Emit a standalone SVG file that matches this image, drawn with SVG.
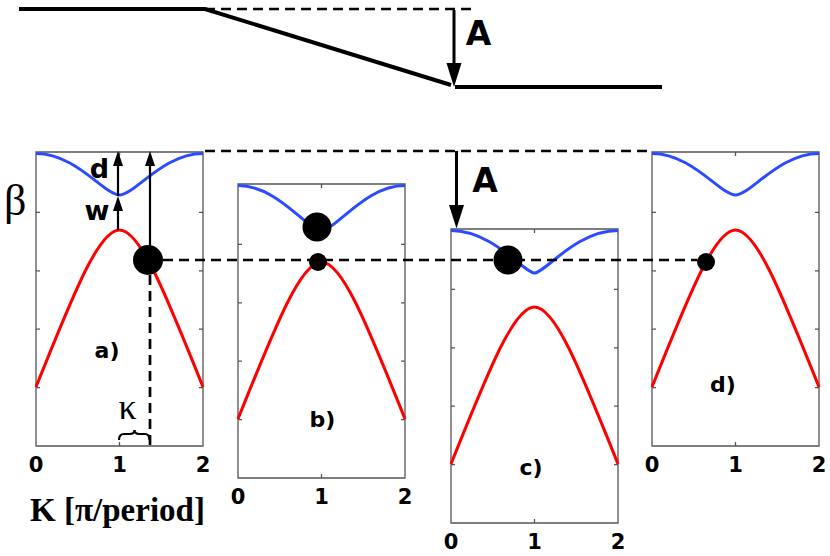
<svg xmlns="http://www.w3.org/2000/svg" xmlns:xlink="http://www.w3.org/1999/xlink" width="830" height="556" viewBox="0 0 830 556">
<style>
.frame{fill:none;stroke:#555;stroke-width:1.3}
.red{fill:none;stroke:#ff0000;stroke-width:3}
.blue{fill:none;stroke:#2a4bff;stroke-width:3}
.lbl{font-family:"DejaVu Sans","Liberation Sans",sans-serif;font-weight:bold;fill:#000}
.tick{font-size:21px;text-anchor:middle}
.plab{font-size:22px;text-anchor:middle}
.dash{fill:none;stroke:#000;stroke-width:2.7;stroke-dasharray:10 6}
.solid{fill:none;stroke:#000;stroke-width:4}
.arr{fill:none;stroke:#000;stroke-width:2.2}
.arrB{fill:none;stroke:#000;stroke-width:3}
.serif{font-family:"Liberation Serif","Times New Roman",serif;fill:#000}
</style>
<defs>
<path id="frame" d="M0,0H167V294H0Z M0,235.6h4 M0,177.2h4 M0,118.8h4 M0,60.4h4 M167,235.6h-4 M167,177.2h-4 M167,118.8h-4 M167,60.4h-4 M83.5,0v4 M83.5,294v-4"/>
<path id="red" d="M0,235 C40,135 63.5,78 83.5,78 C103.5,78 127,135 167,235"/>
<path id="blueA" d="M0,1.5 C40,1.5 68.5,43 83.5,43 C98.5,43 127,1.5 167,1.5"/>
<path id="blueB" d="M0,1.5 C40,1.5 68.5,46 83.5,46 C98.5,46 127,1.5 167,1.5"/>
<path id="blueC" d="M0,1.5 C42,1.5 73,44 83.5,44 C94,44 125,1.5 167,1.5"/>
</defs>
<g id="top-profile">
<path class="solid" d="M19,9 L205,9 L451,85"/>
<path class="solid" d="M455,87 L662,87"/>
</g>
<g id="panel-a" transform="translate(36,152)">
<use xlink:href="#frame" class="frame"/>
<use xlink:href="#blueA" class="blue"/>
<use xlink:href="#red" class="red"/>
<text class="lbl tick" x="0" y="320">0</text>
<text class="lbl tick" x="83.5" y="320">1</text>
<text class="lbl tick" x="167" y="320">2</text>
<text class="lbl plab" x="71" y="206">a)</text>
</g>
<g id="panel-b" transform="translate(238,184)">
<use xlink:href="#frame" class="frame"/>
<use xlink:href="#blueB" class="blue"/>
<use xlink:href="#red" class="red"/>
<text class="lbl tick" x="0" y="320">0</text>
<text class="lbl tick" x="83.5" y="320">1</text>
<text class="lbl tick" x="167" y="320">2</text>
<text class="lbl plab" x="84.5" y="243">b)</text>
</g>
<g id="panel-c" transform="translate(451,229)">
<use xlink:href="#frame" class="frame"/>
<use xlink:href="#blueC" class="blue"/>
<use xlink:href="#red" class="red"/>
<text class="lbl tick" x="0" y="320">0</text>
<text class="lbl tick" x="83.5" y="320">1</text>
<text class="lbl tick" x="167" y="320">2</text>
<text class="lbl plab" x="80" y="246">c)</text>
</g>
<g id="panel-d" transform="translate(652,152)">
<use xlink:href="#frame" class="frame"/>
<use xlink:href="#blueA" class="blue"/>
<use xlink:href="#red" class="red"/>
<text class="lbl tick" x="0" y="320">0</text>
<text class="lbl tick" x="83.5" y="320">1</text>
<text class="lbl tick" x="167" y="320">2</text>
<text class="lbl plab" x="71" y="240">d)</text>
</g>
<g id="connectors">
<path class="dash" d="M205,9 H473"/>
<path class="dash" d="M205,151 H648"/>
<path class="dash" d="M163,260 H697"/>
<path class="dash" d="M150,275 V446"/>
<path class="arr" d="M118,230 V209"/>
<polygon points="118,196 113,211 123,211"/>
<path class="arr" d="M118,196 V163"/>
<polygon points="118,151 113,166 123,166"/>
<path class="arr" d="M150,250 V163"/>
<polygon points="150,151 145,166 155,166"/>
<path class="arrB" d="M454,10 V66"/>
<polygon points="454,87 446.5,63 461.5,63"/>
<path class="arrB" d="M456.5,151 V207"/>
<polygon points="456.5,228.5 449,205 464,205"/>
<path class="arr" d="M119,440 Q119,434 124,434 L129.5,434 Q134.5,434 134.5,430 Q134.5,434 139.5,434 L145,434 Q149.5,434 149.5,440" stroke-width="2.5"/>
</g>
<g id="dots">
<circle cx="148" cy="260" r="15"/>
<circle cx="317" cy="227" r="14.5"/>
<circle cx="318" cy="262" r="9"/>
<circle cx="508" cy="260" r="14.5"/>
<circle cx="706" cy="262" r="9"/>
</g>
<g id="labels">
<text class="lbl" x="478.5" y="45" font-size="33" text-anchor="middle">A</text>
<text class="lbl" x="485" y="192" font-size="33" text-anchor="middle">A</text>
<text class="lbl" x="99.5" y="178" font-size="27" text-anchor="middle">d</text>
<text class="lbl" x="97" y="220" font-size="27" text-anchor="middle">w</text>
<text class="serif" x="4" y="215" font-size="44">β</text>
<text class="serif" x="127.5" y="419" font-size="36" text-anchor="middle">κ</text>
<text class="serif" x="117.5" y="521" font-size="33" font-weight="bold" text-anchor="middle">K [π/period]</text>
</g>
</svg>
